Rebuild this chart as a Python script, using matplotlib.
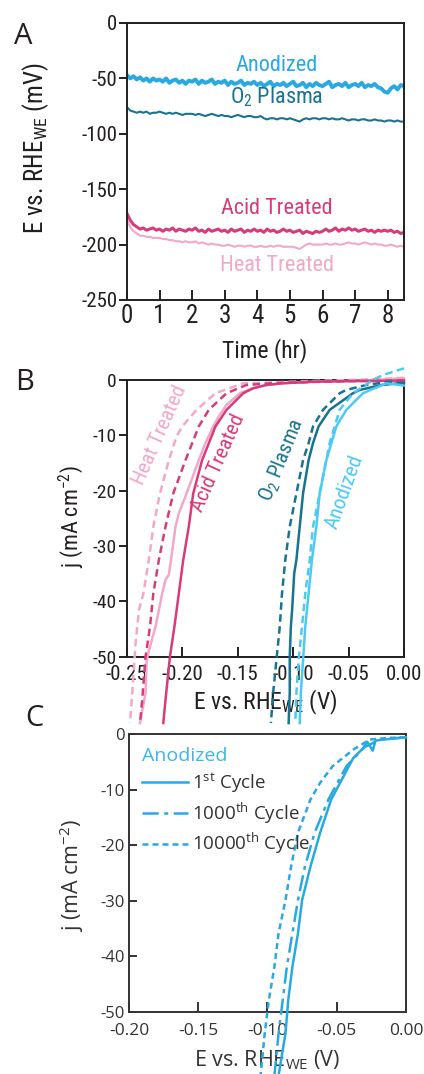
import numpy as np
import matplotlib
matplotlib.use("Agg")
import matplotlib.pyplot as plt
import matplotlib.font_manager as fm

# ---------------- data ----------------
# Panel A: open-circuit potential vs time (mV), sampled every 0.1 hr
time_hr = np.round(np.arange(0, 8.51, 0.1), 2)

ocp_anodized = [
    -47, -50, -48, -51, -49, -52, -50, -53, -50, -52,
    -51, -53, -50, -54, -52, -51, -54, -52, -55, -52,
    -53, -51, -55, -52, -54, -53, -51, -55, -53, -54,
    -52, -56, -53, -55, -54, -52, -56, -54, -55, -53,
    -56, -54, -57, -55, -53, -57, -55, -56, -54, -57,
    -55, -53, -57, -56, -54, -58, -55, -57, -54, -56,
    -57, -55, -53, -58, -56, -55, -57, -54, -58, -56,
    -55, -57, -54, -58, -56, -57, -55, -58, -59, -62,
    -63, -59, -57, -60, -56, -57]
ocp_o2 = [
    -76, -79, -80, -81, -80, -81, -80, -82, -81, -81,
    -80, -81, -82, -81, -82, -81, -82, -83, -82, -82,
    -82, -83, -82, -83, -84, -83, -82, -83, -84, -83,
    -84, -84, -85, -84, -83, -84, -85, -84, -84, -85,
    -85, -84, -86, -87, -86, -86, -87, -86, -86, -87,
    -86, -87, -88, -89, -87, -86, -87, -86, -86, -87,
    -86, -86, -87, -86, -87, -87, -86, -87, -88, -87,
    -87, -88, -87, -87, -88, -88, -87, -88, -88, -89,
    -88, -88, -89, -88, -89, -89]
ocp_acid = [
    -172, -178, -182, -184, -186, -185, -187, -186, -185, -187,
    -186, -188, -186, -187, -185, -188, -186, -187, -188, -186,
    -187, -185, -188, -187, -189, -186, -188, -187, -186, -188,
    -187, -189, -186, -188, -187, -186, -189, -187, -188, -186,
    -188, -187, -189, -186, -188, -187, -189, -188, -186, -188,
    -187, -189, -188, -187, -190, -188, -189, -190, -188, -189,
    -188, -186, -188, -187, -185, -188, -186, -187, -185, -187,
    -186, -188, -187, -186, -188, -187, -189, -187, -188, -187,
    -188, -187, -189, -188, -190, -189]
ocp_heat = [
    -178, -184, -188, -190, -192, -192, -193, -193, -194, -194,
    -194, -195, -195, -196, -196, -197, -197, -198, -197, -198,
    -198, -197, -199, -198, -199, -200, -199, -200, -200, -201,
    -201, -200, -201, -202, -201, -201, -202, -201, -201, -202,
    -202, -201, -202, -202, -201, -202, -201, -201, -202, -202,
    -202, -202, -203, -204, -202, -200, -199, -200, -200, -200,
    -200, -199, -200, -200, -199, -200, -200, -199, -198, -199,
    -199, -200, -199, -198, -199, -200, -199, -200, -200, -201,
    -201, -200, -201, -202, -201, -202]

# Panel B: polarization curves, potential (V) and current density (mA cm^-2)
acid_solid_E = [0.000, -0.040, -0.080, -0.110, -0.124, -0.136, -0.145, -0.160, -0.170, -0.182,
                -0.190, -0.194, -0.199, -0.203, -0.207, -0.211, -0.215, -0.217]
acid_solid_j = [-0.1, -0.2, -0.3, -0.6, -0.9, -1.5, -2.4, -5.4, -8.4, -14.5,
                -20.5, -26.5, -32.5, -38.6, -44.6, -50.0, -57.8, -62.0]
acid_dash_E = [0.000, -0.050, -0.090, -0.120, -0.142, -0.160, -0.176, -0.185, -0.197, -0.208,
               -0.215, -0.221, -0.226, -0.229, -0.233, -0.236, -0.238]
acid_dash_j = [-0.1, -0.2, -0.4, -0.6, -0.9, -2.4, -5.4, -8.4, -14.5, -20.5,
               -26.5, -32.5, -38.6, -44.6, -50.0, -57.8, -62.0]
heat_solid_E = [0.000, -0.040, -0.080, -0.110, -0.126, -0.138, -0.148, -0.160, -0.167, -0.172,
                -0.179, -0.185, -0.196, -0.203, -0.206, -0.210, -0.212, -0.215, -0.218, -0.224,
                -0.229, -0.232, -0.233, -0.238]
heat_solid_j = [0.3, -0.1, -0.3, -0.6, -1.0, -1.6, -2.4, -4.5, -6.6, -8.4,
                -11.4, -14.5, -20.5, -24.1, -26.5, -32.5, -35.2, -36.1, -38.6, -44.6,
                -48.2, -50.6, -56.6, -62.0]
heat_dash_E = [0.000, -0.030, -0.070, -0.100, -0.125, -0.145, -0.170, -0.187, -0.200, -0.205,
               -0.212, -0.220, -0.226, -0.230, -0.235, -0.239, -0.242, -0.245, -0.247]
heat_dash_j = [0.4, 0.1, -0.1, -0.3, -0.5, -0.6, -2.4, -5.4, -8.4, -10.2,
               -14.5, -20.5, -26.5, -32.5, -38.6, -41.6, -47.6, -56.6, -62.0]
o2_solid_E = [0.000, -0.020, -0.040, -0.046, -0.067, -0.077, -0.082, -0.086, -0.091, -0.094,
              -0.097, -0.099, -0.100, -0.101, -0.102, -0.103, -0.103, -0.104]
o2_solid_j = [-0.5, -0.9, -1.8, -2.4, -5.4, -8.4, -11.4, -14.5, -20.5, -26.5,
              -32.5, -35.0, -38.6, -42.0, -44.6, -50.0, -56.6, -62.0]
o2_dash_E = [0.000, -0.013, -0.034, -0.052, -0.058, -0.073, -0.082, -0.086, -0.091, -0.097,
             -0.100, -0.103, -0.107, -0.110, -0.112, -0.115, -0.118, -0.120]
o2_dash_j = [-0.6, -0.3, -0.9, -1.8, -2.4, -5.4, -8.4, -11.4, -14.5, -20.5,
             -23.5, -26.5, -32.5, -38.6, -44.6, -50.6, -56.6, -62.0]
anod_solid_E = [0.000, -0.016, -0.037, -0.052, -0.061, -0.070, -0.076, -0.079, -0.083, -0.086,
                -0.089, -0.091, -0.093, -0.094]
anod_solid_j = [-1.0, -0.6, -2.4, -5.4, -8.4, -14.5, -20.5, -26.5, -32.5, -38.6,
                -44.6, -50.6, -56.6, -62.0]
anod_dash_E = [0.000, -0.019, -0.028, -0.046, -0.058, -0.067, -0.076, -0.082, -0.085, -0.089,
               -0.092, -0.095, -0.097, -0.098]
anod_dash_j = [2.1, 0.9, 0.0, -2.4, -5.4, -11.4, -20.5, -26.5, -32.5, -38.6,
               -44.6, -50.6, -56.6, -62.0]

# Panel C: anodized sample after repeated cycling
cyc1_E = [0.000, -0.016, -0.022, -0.024, -0.028, -0.031, -0.038, -0.045, -0.054, -0.062,
          -0.069, -0.075, -0.078, -0.082, -0.085, -0.087, -0.092]
cyc1_j = [-0.6, -1.0, -1.2, -3.0, -1.4, -2.6, -4.3, -7.6, -11.8, -17.8,
          -23.9, -29.9, -35.9, -41.9, -47.9, -53.9, -61.5]
cyc1000_E = [0.000, -0.019, -0.030, -0.043, -0.056, -0.066, -0.073, -0.078, -0.082, -0.086,
             -0.089, -0.092, -0.095]
cyc1000_j = [-0.6, -1.0, -2.4, -5.8, -11.8, -17.8, -23.9, -29.9, -35.9, -41.9,
             -47.9, -53.9, -61.5]
cyc10000_E = [0.000, -0.012, -0.026, -0.038, -0.053, -0.062, -0.069, -0.078, -0.083, -0.087,
              -0.092, -0.095, -0.099, -0.102, -0.105]
cyc10000_j = [-0.6, -0.7, -1.0, -2.8, -5.8, -8.8, -11.8, -17.8, -23.9, -29.9,
              -35.9, -41.9, -47.9, -53.9, -61.5]

labels_A = ["Anodized", "O$_2$ Plasma", "Acid Treated", "Heat Treated"]
labels_C = ["1$^{st}$ Cycle", "1000$^{th}$ Cycle", "10000$^{th}$ Cycle"]

# ---------------- style ----------------
avail = {f.name for f in fm.fontManager.ttflist}
NARROW = next((n for n in ["Liberation Sans Narrow", "Roboto Condensed", "Open Sans Condensed"]
               if n in avail), "DejaVu Sans")
PLAIN = "Open Sans" if "Open Sans" in avail else "DejaVu Sans"

plt.rcParams["axes.unicode_minus"] = False
plt.rcParams["mathtext.default"] = "regular"

INK = "#231f20"
C_ANOD = "#29a9e1"
C_ANOD_B = "#4ccaf4"
C_O2 = "#17738f"
C_ACID = "#d63b7c"
C_HEAT = "#f2a8c8"

fig = plt.figure(figsize=(4.24, 10.74), dpi=100)


def style_axes(ax, tick_font, xsize, ysize, color, ydir="out", xpad=3):
    for s in ax.spines.values():
        s.set_linewidth(1.4)
        s.set_color(color)
    ax.tick_params(axis="x", direction="in", length=7, width=1.4, color=color,
                   labelsize=xsize, labelcolor=color, pad=xpad, top=False)
    ax.tick_params(axis="y", direction=ydir, length=6, width=1.4, color=color,
                   labelsize=ysize, labelcolor=color, pad=1 if ydir == "out" else 3, right=False)
    for lab in ax.get_xticklabels() + ax.get_yticklabels():
        lab.set_fontfamily(tick_font)


# ---------------- panel A ----------------
axA = fig.add_axes([0.2995, 0.7207, 0.6533, 0.2579])
axA.plot(time_hr, ocp_o2, color=C_O2, lw=1.5)
axA.plot(time_hr, ocp_heat, color=C_HEAT, lw=1.5)
axA.plot(time_hr, ocp_acid, color=C_ACID, lw=2.2)
axA.plot(time_hr, ocp_anodized, color=C_ANOD, lw=2.8)
axA.set_xlim(0, 8.5)
axA.set_ylim(-250, 0)
axA.set_xticks(range(0, 9))
axA.set_yticks([-250, -200, -150, -100, -50, 0])
style_axes(axA, NARROW, 18, 15, INK)
for txt, (x, y), col in zip(labels_A,
                            [(4.6, -38), (4.6, -67), (4.6, -167), (4.6, -219)],
                            [C_ANOD, C_O2, C_ACID, C_HEAT]):
    axA.text(x, y, txt, color=col, fontsize=16, fontfamily=NARROW, ha="center", va="center")
axA.set_xlabel("Time (hr)", fontsize=17, fontfamily=NARROW, color=INK, ha="center", va="center")
axA.xaxis.set_label_coords(0.498, -0.184)
axA.set_ylabel("E vs. RHE$_{WE}$ (mV)", fontsize=18, fontfamily=NARROW, color=INK,
               ha="center", va="center")
axA.yaxis.set_label_coords(-0.3285, 0.549)

# ---------------- panel B ----------------
axB = fig.add_axes([0.2988, 0.3886, 0.654, 0.2576])
curvesB = [
    (heat_dash_E, heat_dash_j, C_HEAT, "--"),
    (heat_solid_E, heat_solid_j, C_HEAT, "-"),
    (acid_dash_E, acid_dash_j, C_ACID, "--"),
    (acid_solid_E, acid_solid_j, C_ACID, "-"),
    (o2_dash_E, o2_dash_j, C_O2, "--"),
    (o2_solid_E, o2_solid_j, C_O2, "-"),
    (anod_dash_E, anod_dash_j, C_ANOD_B, "--"),
    (anod_solid_E, anod_solid_j, C_ANOD_B, "-"),
]
for E, j, col, ls in curvesB:
    ln, = axB.plot(E, j, color=col, lw=1.8, ls=ls, clip_on=False, zorder=3)
    if ls == "--":
        ln.set_dashes((3.0, 1.8))
axB.set_xlim(-0.25, 0.0)
axB.set_ylim(-50, 0)
axB.set_xticks([-0.25, -0.20, -0.15, -0.10, -0.05, 0.00])
axB.set_xticklabels(["-0.25", "-0.20", "-0.15", "-0.10", "-0.05", "0.00"])
axB.set_yticks([-50, -40, -30, -20, -10, 0])
style_axes(axB, NARROW, 15, 14, INK, xpad=6)
for txt, (x, y), col, rot in zip(
        ["Heat Treated", "Acid Treated", "O$_2$ Plasma", "Anodized"],
        [(-0.220, -9.9), (-0.1677, -15.0), (-0.110, -14.5), (-0.0532, -20.2)],
        [C_HEAT, C_ACID, C_O2, C_ANOD_B], [66, 66, 68, 70]):
    axB.text(x, y, txt, color=col, fontsize=15, fontfamily=NARROW, rotation=rot,
             rotation_mode="anchor", ha="center", va="center")
axB.set_xlabel("E vs. RHE$_{WE}$ (V)", fontsize=17, fontfamily=NARROW, color=INK,
               ha="center", va="center")
axB.xaxis.set_label_coords(0.5, -0.167)
axB.set_ylabel("j (mA cm$^{-2}$)", fontsize=16, fontfamily=NARROW, color=INK,
               ha="center", va="center")
axB.yaxis.set_label_coords(-0.201, 0.508)

# ---------------- panel C ----------------
GRAY = "#333333"
axC = fig.add_axes([0.3042, 0.0580, 0.6533, 0.2586])
axC.patch.set_alpha(0)
lc1, = axC.plot(cyc1_E, cyc1_j, color=C_ANOD, lw=1.8, ls="-", clip_on=False, zorder=3)
lc2, = axC.plot(cyc1000_E, cyc1000_j, color=C_ANOD, lw=1.8, clip_on=False, zorder=3)
lc2.set_dashes((6.5, 2.2, 1.6, 2.2))
lc3, = axC.plot(cyc10000_E, cyc10000_j, color=C_ANOD, lw=1.8, clip_on=False, zorder=3)
lc3.set_dashes((2.4, 1.6))
axC.set_xlim(-0.20, 0.0)
axC.set_ylim(-50, 0)
axC.set_xticks([-0.20, -0.15, -0.10, -0.05, 0.00])
axC.set_xticklabels(["-0.20", "-0.15", "-0.10", "-0.05", "0.00"])
axC.set_yticks([-50, -40, -30, -20, -10, 0])
style_axes(axC, PLAIN, 12.5, 12, GRAY, ydir="in", xpad=8)
axC.set_xlabel("E vs. RHE$_{WE}$ (V)", fontsize=15.5, fontfamily=PLAIN, color=GRAY,
               ha="center", va="center")
axC.xaxis.set_label_coords(0.498, -0.174)
axC.set_ylabel("j (mA cm$^{-2}$)", fontsize=15.5, fontfamily=PLAIN, color=GRAY,
               ha="center", va="center")
axC.yaxis.set_label_coords(-0.206, 0.492)
leg = axC.legend([lc1, lc2, lc3], labels_C, loc="upper left", bbox_to_anchor=(0.0, 1.0),
                 frameon=False, title="Anodized", alignment="left",
                 prop={"family": PLAIN, "size": 13.5}, handlelength=2.45,
                 handletextpad=0.2, labelspacing=0.3, borderaxespad=0.3,
                 title_fontproperties={"family": PLAIN, "size": 14})
leg.get_title().set_color("#3db6ea")
for t in leg.get_texts():
    t.set_color(GRAY)

# ---------------- panel letters ----------------
for letter, (px, py) in zip("ABC", [(23, 37), (25, 383), (34, 719)]):
    fig.text(px / 424, 1 - py / 1074, letter, fontsize=21, fontfamily=PLAIN, color=INK,
             ha="center", va="center")

fig.savefig("out.png", dpi=100)
